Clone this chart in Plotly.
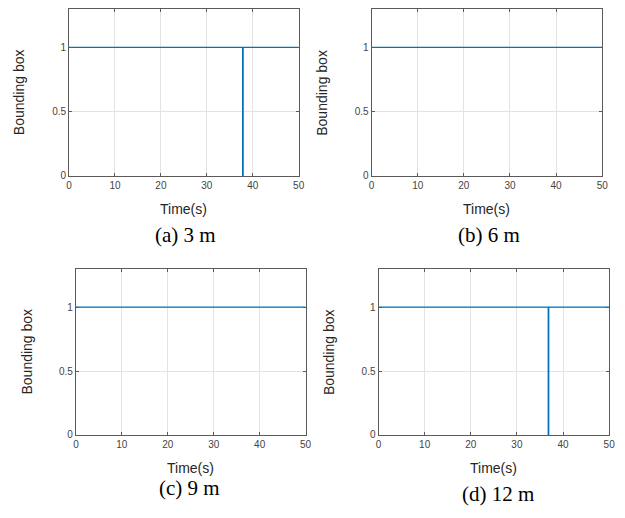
import plotly.graph_objects as go

# Data
time_a = [0, 37.8, 37.8, 37.9, 37.9, 50]
bbox_a = [1, 1, 0, 0, 1, 1]
time_b = [0, 50]
bbox_b = [1, 1]
time_c = [0, 50]
bbox_c = [1, 1]
time_d = [0, 36.8, 36.8, 36.9, 36.9, 50]
bbox_d = [1, 1, 0, 0, 1, 1]
captions = ["(a) 3 m", "(b) 6 m", "(c) 9 m", "(d) 12 m"]
x_ticks = [0, 10, 20, 30, 40, 50]
y_ticks = [0, 0.5, 1]
y_ticklabels = ["0", "0.5", "1"]

W, H = 625, 518
# plot areas in pixels: (left, right, top, bottom)
boxes = [(67, 300, 9, 178), (374, 608, 9, 178), (74, 307, 272, 440), (381, 615, 272, 440)]
cap_pos = [(185, 238), (493, 238), (189, 494), (502, 500)]
ytitle_x = [17, 324, 24, 331]

series = [(time_a, bbox_a), (time_b, bbox_b), (time_c, bbox_c), (time_d, bbox_d)]

fig = go.Figure()
layout = dict(autosize=True, margin=dict(l=0, r=0, t=0, b=0),
              paper_bgcolor="white", plot_bgcolor="white", showlegend=False,
              font=dict(family="Liberation Sans, Arial, sans-serif", color="#262626"))
annotations = []


def ann(text, px, py, size, color, family=None, angle=0):
    f = dict(size=size, color=color)
    if family:
        f["family"] = family
    return dict(text=text, x=px / W, y=1 - py / H, xref="paper", yref="paper",
                xanchor="center", yanchor="middle", showarrow=False,
                textangle=angle, font=f)


for i, ((t, v), (l, r, tp, b)) in enumerate(zip(series, boxes)):
    n = "" if i == 0 else str(i + 1)
    fig.add_trace(go.Scatter(x=t, y=v, mode="lines", line=dict(color="#0072BD", width=1.3),
                             xaxis="x" + n, yaxis="y" + n))
    axstyle = dict(showline=True, linecolor="#5a5a5a", linewidth=1, mirror="ticks",
                   ticks="inside", ticklen=3, tickcolor="#5a5a5a",
                   showgrid=True, gridcolor="#e3e3e3", gridwidth=1, zeroline=False,
                   tickfont=dict(size=10, color="#444444"))
    layout["xaxis" + n] = dict(axstyle, domain=[l / W, r / W], range=[0, 50],
                               tickvals=x_ticks, anchor="y" + n)
    layout["yaxis" + n] = dict(axstyle, domain=[1 - b / H, 1 - tp / H], range=[0, 1.3],
                               tickvals=y_ticks, ticktext=y_ticklabels, anchor="x" + n)
    annotations.append(ann("Time(s)", (l + r) / 2, b + 33, 14, "#262626"))
    annotations.append(ann("Bounding box", ytitle_x[i], (tp + b) / 2, 14, "#262626", angle=-90))
    cx, cy = cap_pos[i]
    annotations.append(ann(captions[i], cx, cy, 21, "black",
                           family="Liberation Serif, Times New Roman, serif"))
layout["annotations"] = annotations
fig.update_layout(**layout)
post = ("document.documentElement.style.margin='0';document.body.style.margin='0';"
        "document.documentElement.style.overflow='hidden';document.body.style.overflow='hidden';"
        "var gd=document.getElementById('{plot_id}');gd.style.position='fixed';"
        "gd.style.left='0px';gd.style.top='0px';")
fig.write_html("out.html", config={"displayModeBar": False, "responsive": True},
               default_width="100vw", default_height="100vh", post_script=post)
